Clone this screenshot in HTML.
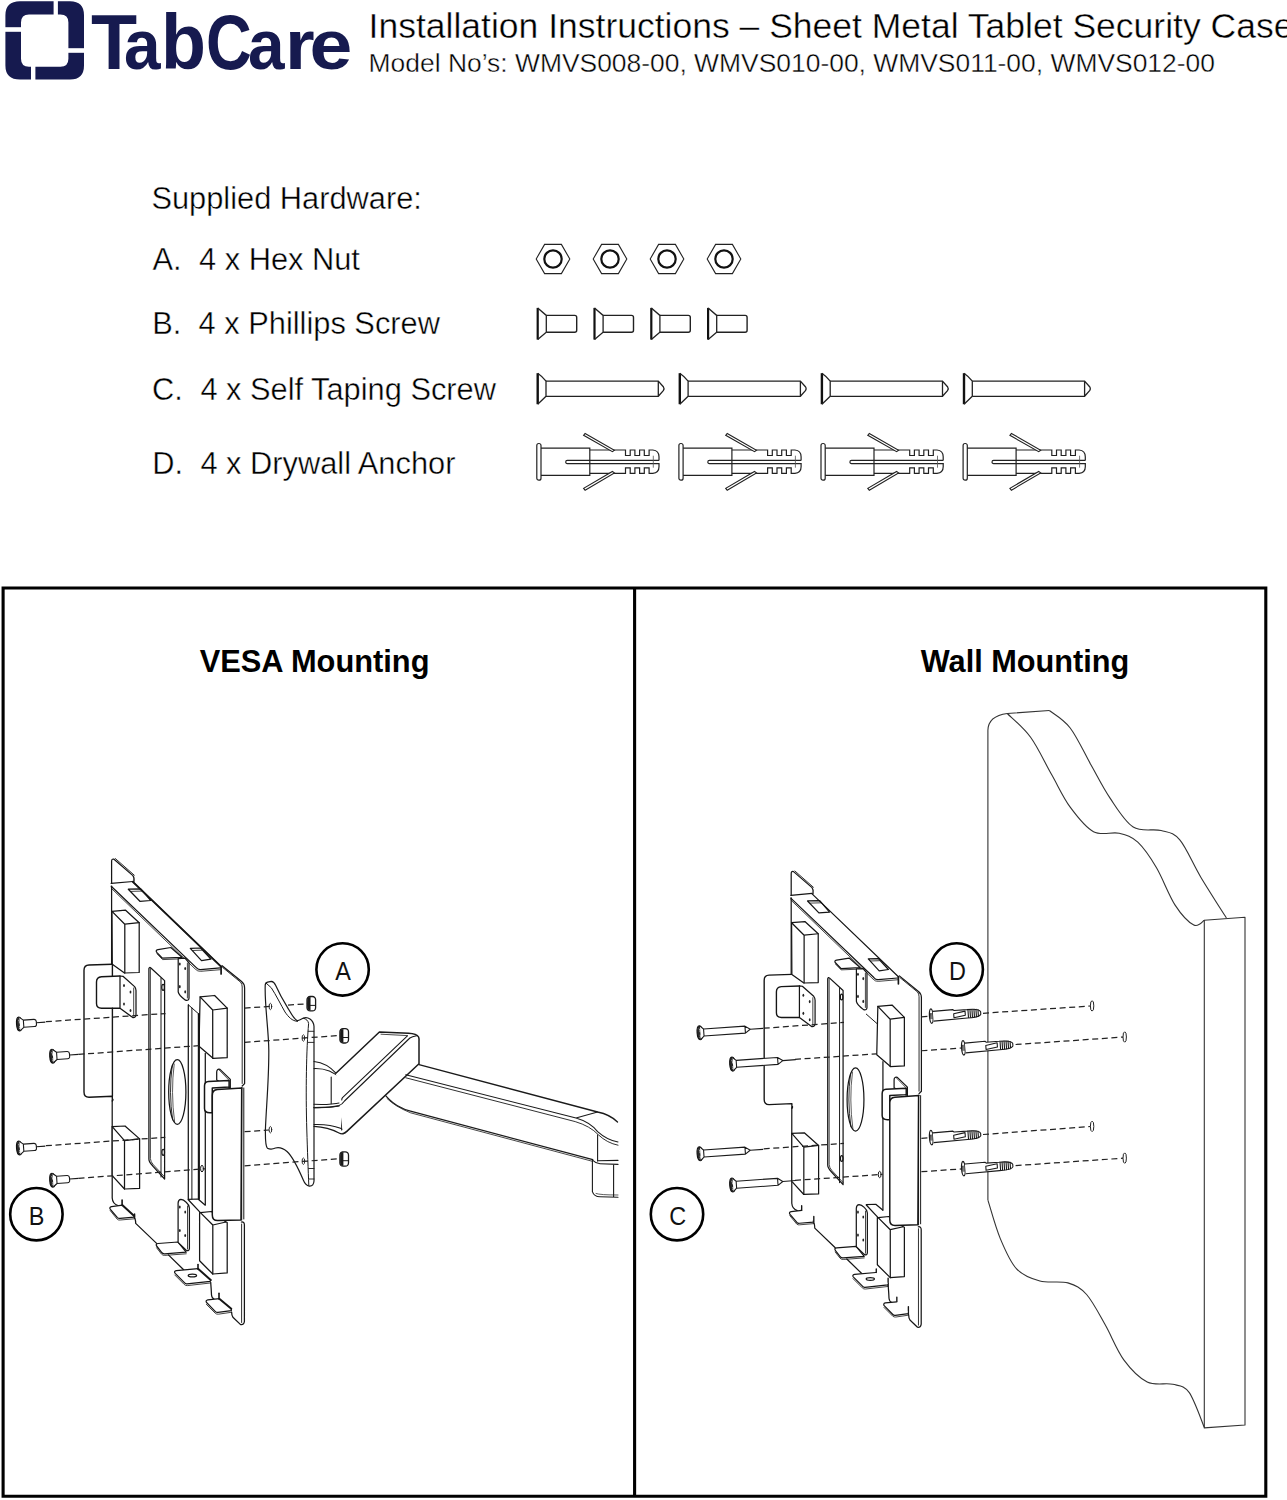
<!DOCTYPE html>
<html>
<head>
<meta charset="utf-8">
<style>
html,body{margin:0;padding:0;background:#fff;}
body{width:1287px;height:1500px;position:relative;overflow:hidden;font-family:"Liberation Sans",sans-serif;color:#000;}
.t{position:absolute;white-space:nowrap;line-height:1;}
.th{-webkit-text-stroke:0.4px #fff;}
.lg{top:4.4px;font-size:77px;font-weight:700;color:#161a4f;transform-origin:0 0;}
svg{position:absolute;left:0;top:0;overflow:visible;}
</style>
</head>
<body>
<!-- LOGO -->
<svg width="1287" height="100" viewBox="0 0 1287 100">
  <path fill="#161a4f" fill-rule="evenodd" d="M20,1.2 H70 Q84,1.2 84,15.2 V65.6 Q84,79.6 70,79.6 H20 Q5.4,79.6 5.4,65.6 V15.2 Q5.4,1.2 20,1.2 Z M29,14.4 H60.4 Q68.4,14.4 68.4,22.4 V58.8 Q68.4,66.8 60.4,66.8 H29 Q21,66.8 21,58.8 V22.4 Q21,14.4 29,14.4 Z"/>
  <rect x="53.6" y="0" width="4.3" height="16" fill="#fff"/>
  <rect x="3" y="27.2" width="19" height="4.6" fill="#fff"/>
  <rect x="67.5" y="48.2" width="19" height="4.6" fill="#fff"/>
  <rect x="31" y="65.5" width="4.4" height="16" fill="#fff"/>
</svg>
<div class="t lg" style="left:90.5px;transform:scaleX(0.98);">T</div><div class="t lg" style="left:123.7px;transform-origin:0 65.6px;transform:scale(0.854,0.91);">a</div><div class="t lg" style="left:160.6px;transform:scaleX(0.956);">b</div><div class="t lg" style="left:206.2px;transform:scaleX(0.822);">C</div><div class="t lg" style="left:247.8px;transform-origin:0 65.6px;transform:scale(0.854,0.91);">a</div><div class="t lg" style="left:284.85px;transform-origin:0 65.6px;transform:scale(0.99,0.91);">r</div><div class="t lg" style="left:309.5px;transform-origin:0 65.6px;transform:scale(1.0,0.91);">e</div>

<div class="t th" id="title" style="left:368.6px;top:9.1px;font-size:35.5px;color:#000;">Installation Instructions – Sheet Metal Tablet Security Case</div>
<div class="t th" id="model" style="left:368.6px;top:49.7px;font-size:26.43px;color:#000;">Model No’s: WMVS008-00, WMVS010-00, WMVS011-00, WMVS012-00</div>

<div class="t th" style="left:151.4px;top:183.8px;font-size:30.8px;">Supplied Hardware:</div>
<div class="t th" style="left:152.5px;top:244.7px;font-size:30.8px;">A.</div>
<div class="t th" style="left:199px;top:244.7px;font-size:30.8px;">4 x Hex Nut</div>
<div class="t th" style="left:152.3px;top:309.4px;font-size:30.8px;">B.</div>
<div class="t th" style="left:198.6px;top:309.4px;font-size:30.8px;">4 x Phillips Screw</div>
<div class="t th" style="left:151.9px;top:375.4px;font-size:30.8px;">C.</div>
<div class="t th" style="left:200.4px;top:375.4px;font-size:30.8px;">4 x Self Taping Screw</div>
<div class="t th" style="left:152.3px;top:448.5px;font-size:30.8px;">D.</div>
<div class="t th" style="left:200.4px;top:448.5px;font-size:30.8px;">4 x Drywall Anchor</div>

<div class="t" style="left:199.7px;top:647.1px;font-size:30.8px;font-weight:700;">VESA Mounting</div>
<div class="t" style="left:920.8px;top:647.3px;font-size:30.7px;font-weight:700;">Wall Mounting</div>

<!-- PANEL FRAME -->
<svg width="1287" height="1500" viewBox="0 0 1287 1500">
  <rect x="3.1" y="588" width="1263" height="1908" fill="none" stroke="#000" stroke-width="3.2" style="display:none"/>
  <path d="M3.1,588 H1265.8 V1496.2 H3.1 Z M634.6,588 V1496.2" fill="none" stroke="#000" stroke-width="3.1"/>
</svg>

<!-- HARDWARE ICONS -->
<svg width="1287" height="520" viewBox="0 0 1287 520" id="hw">
  <defs>
    <g id="nut">
      <polygon points="-16.8,0 -8.4,-14.6 8.4,-14.6 16.8,0 8.4,14.6 -8.4,14.6" fill="none" stroke="#222" stroke-width="1.1"/>
      <circle cx="0" cy="0" r="8.7" fill="none" stroke="#111" stroke-width="2.2"/>
    </g>
    <g id="screwB">
      <path d="M0.6,0 V31.7" stroke="#111" stroke-width="2.2" fill="none"/>
      <path d="M0.6,0 L9.2,7.5 V24.3 L0.6,31.7" stroke="#222" stroke-width="1.3" fill="none"/>
      <path d="M9.2,7.5 H37.6 Q39.6,7.5 39.6,9.5 V22.3 Q39.6,24.3 37.6,24.3 H9.2" stroke="#222" stroke-width="1.4" fill="none"/>
    </g>
    <g id="screwC">
      <path d="M0.6,0 V31" stroke="#111" stroke-width="2.4" fill="none"/>
      <path d="M0.6,0 Q5,3 8.9,7.9 V23.1 Q5,27 0.6,31" stroke="#222" stroke-width="1.3" fill="none"/>
      <path d="M8.9,7.9 H121.2 L126.2,13.5 Q127.6,15.5 126.2,17.5 L121.2,23.1 H8.9 M121.2,7.9 V23.1" stroke="#222" stroke-width="1.3" fill="none"/>
    </g>
    <g id="anchor">
      <rect x="0" y="-18.2" width="4.2" height="36.7" rx="2" fill="none" stroke="#222" stroke-width="1.2"/>
      <path d="M4.2,-13.6 H53 V13.7 H4.2" fill="none" stroke="#222" stroke-width="1.2"/>
      <path d="M53,-11.7 H88.7 V-6.2 H93.4 V-11.7 H98.1 V-6.2 H102.8 V-11.7 H107.5 V-6.2 H112.3 V-11.7 H116 Q122.2,-11 122.2,-5 V-1.3 M53,11.6 H88.7 V6.1 H93.4 V11.6 H98.1 V6.1 H102.8 V11.6 H107.5 V6.1 H112.3 V11.6 H116 Q122.2,11 122.2,5 V1.3" fill="none" stroke="#222" stroke-width="1.2"/>
      <path d="M122.2,-1.3 H30.5 Q28.9,-1.3 28.9,0.3 Q28.9,1.9 30.5,1.9 H122.2" fill="none" stroke="#222" stroke-width="1.1"/>
      <path d="M116.5,-6 V6" stroke="#555" stroke-width="0.8"/>
      <path d="M46.8,-26.4 L48.3,-28.3 L77.6,-11.4 L75.6,-10.0 Z" fill="#fff" stroke="#222" stroke-width="1.1"/>
      <path d="M46.8,26.6 L48.3,28.5 L77.6,11.2 L75.6,9.8 Z" fill="#fff" stroke="#222" stroke-width="1.1"/>
    </g>
  </defs>
  <use href="#nut" x="553" y="259"/>
  <use href="#nut" x="610" y="259"/>
  <use href="#nut" x="667" y="259"/>
  <use href="#nut" x="724" y="259"/>
  <use href="#screwB" x="537.1" y="307.9"/>
  <use href="#screwB" x="593.9" y="307.9"/>
  <use href="#screwB" x="650.7" y="307.9"/>
  <use href="#screwB" x="707.5" y="307.9"/>
  <use href="#screwC" x="537.1" y="373.2"/>
  <use href="#screwC" x="679.2" y="373.2"/>
  <use href="#screwC" x="821.3" y="373.2"/>
  <use href="#screwC" x="963.4" y="373.2"/>
  <use href="#anchor" x="536.8" y="461.7"/>
  <use href="#anchor" x="678.9" y="461.7"/>
  <use href="#anchor" x="821" y="461.7"/>
  <use href="#anchor" x="963.1" y="461.7"/>
</svg>

<!-- DIAGRAMS -->
<svg width="1287" height="1500" viewBox="0 0 1287 1500" id="dg">
  <defs>
   <g id="plate" fill="none" stroke="#151515" stroke-width="1.25" stroke-linejoin="round" stroke-linecap="round">
    <!-- ===== plate outline & bends (no fill) ===== -->
    <path d="M111.6,883.4 V861.5 Q111.6,858.4 114,859.2 L132.9,875.6 Q134.6,877.6 133.9,881.9"/>
    <path d="M115.4,858.6 L134.3,875.2" stroke-width="0.9"/>
    <path d="M111.2,883.4 L132.9,881.5"/>
    <path d="M132.9,881.9 L221.1,966.6" stroke-width="1.2"/>
    <path d="M111.2,886.3 L196,967.4 Q198,969.8 200.5,969.6 L220.4,967.9"/>
    <path d="M111.2,888.2 L195.2,969 Q197.6,971.6 200.6,971.3 L220.4,969.7" stroke-width="0.8"/>
    <path d="M221.1,966.6 V974" stroke-width="1.7"/>
    <path d="M128.3,889.2 L140.7,888.9 L150.8,900.5 L139.9,901.3 Z"/>
    <path d="M130.6,891.4 L141.8,891.1" stroke-width="0.8"/>
    <path d="M190.3,948.4 L200.6,948 L210.9,959.2 L201.5,960.6 Z"/>
    <path d="M192.5,950.5 L201.6,950.2" stroke-width="0.8"/>
    <path d="M111.6,886 V964.2"/>
    <!-- side flange -->
    <path d="M112.3,964.2 L89,965 Q84,965.2 84,970.2 V1092 Q84,1097.2 89,1097.2 L112.3,1096.2 V1098.8 Q113.6,1099.4 112.3,1101" stroke-width="1.4"/>
    
    <!-- long slot -->
    <path d="M148.9,1159 V968.6 Q149.6,966.8 150.6,967.8 L164.6,980.6 V1179 L152.6,1165.8 Q148.9,1162 148.9,1159" />
    <path d="M150.4,968.6 V1158.6 Q150.6,1162 153.4,1164.8 L164.4,1176.6" stroke-width="0.8"/>
    <path d="M161,978 V1177" stroke-width="1"/>
    <ellipse cx="163.1" cy="987.3" rx="1.3" ry="3"/>
    <ellipse cx="163.2" cy="1152.3" rx="1.3" ry="3"/>
    <!-- big oval -->
    <ellipse cx="177.3" cy="1092" rx="8.6" ry="32.3"/>
    <path d="M172.2,1066 Q168.6,1092 172.6,1120" stroke-width="0.9"/>
    <path d="M174.2,1064 Q170.6,1092 174.6,1122" stroke-width="0.7"/>
    <!-- strip -->
    
    
    
    <path d="M188.3,1199.4 L198,1199 L205,1204.9 M188.3,1199.8 L200.4,1212.6"/>
    <path d="M205.3,1053.4 V1205"/>
    <path d="M188.3,1004.8 L199,1014.2" stroke-width="1"/>
    <ellipse cx="202" cy="1168.6" rx="1.4" ry="3.3" stroke-width="1"/>
    <!-- plate right edge upper -->
    <path d="M222.1,965.7 L241.6,981.6 Q244.6,984 244.6,988 V1083.6 L242.2,1086"/>
    <path d="M222.6,967.4 L240.6,982.2 Q242.2,984 242.2,987 V1083.5" stroke-width="0.9"/>
    <!-- plate right edge lower -->
    <path d="M241.4,1222 Q244.4,1221.6 244.4,1225 V1321.4 Q244,1325.2 240.6,1324.6 L232.9,1317.2 Q231.6,1315 231.6,1312" />
    <path d="M241.6,1224 V1322.5" stroke-width="0.9"/>
    <!-- plate left edge lower -->
    <path d="M112.2,1099.5 V1198 Q112.6,1203.8 117.9,1205.5"/>
    <!-- plate bottom edges -->
    <path d="M135,1218.7 Q135.7,1220.6 135.7,1223.4 L156.6,1243.4"/>
    <path d="M168.4,1254.9 L183.9,1270"/>
    <path d="M210.7,1282.4 Q211.3,1290 211.5,1295 Q212,1298.5 214,1299.2"/>
    <!-- ===== components (white fill) ===== -->
    <g fill="#fff">
    <!-- block 1 -->
    <path d="M112,911.4 L125.6,910.2 L139.2,922.7 V972.5 L124.5,973 L112.3,964.2 Z"/>
    <path d="M124.8,924.2 L139.2,922.7 M124.8,924.2 V973 M124.8,924.2 L112,911.4" fill="none"/>
    <!-- hinge bracket left -->
    <path d="M120,976 L101.5,976.7 Q96.5,977 96.5,982 V1003.5 Q96.5,1008.2 101.5,1008.2 L120,1008.2" stroke-width="1.4"/>
    <path d="M120,976 L123,976.3 L134.6,986.6 Q136,988.3 136,990.5 V1014.2 Q136,1017.8 132.8,1017.6 L120,1008.2 Z"/>
    <path d="M133.7,988 V1016" stroke-width="0.8" fill="none"/>
    <!-- top tab -->
    <path d="M158,949.6 L170.8,947.5 L182,957.3 L162.4,958.2 L157,952.6 Q155,950.3 158,949.6 Z"/>
    <path d="M157,953.8 L162.6,959.6 L182,958.8" stroke-width="0.8" fill="none"/>
    <!-- hinge bracket right upper -->
    <path d="M178.2,960 V991.8 Q178.6,995 185.5,1000.2 Q189,1001 189,998 V962.9 L185,958.2 L178.2,958.6 Z"/>
    <path d="M187.4,963 V998" stroke-width="0.8" fill="none"/>
    <!-- block 2 -->
    <path d="M200.1,996.9 L214.6,995.5 L227.2,1008.1 V1057.7 L213,1058.3 L199,1046.2 Z"/>
    <path d="M212.7,1010 L227.2,1008.1 M212.7,1010 V1058.3 M212.7,1010 L200.1,996.9" fill="none"/>
    <!-- block 3 (lower left) -->
    <path d="M112.2,1126.6 L125,1126 L139.6,1138.9 V1188.4 L124.5,1189 L112.2,1175.6 Z"/>
    <path d="M124.5,1140.6 L139.6,1138.9 M124.5,1140.6 V1189 M124.5,1140.6 L112.2,1126.6" fill="none"/>
    <!-- lower right block -->
    <path d="M200.4,1212.6 L211.3,1211.5 L226,1222 L227.2,1222.5 V1272.9 L212.8,1274 L199.6,1260.8 V1212.6 Z"/>
    <path d="M212.8,1225 L226,1222 M212.8,1225 V1274 M212.8,1225 L200.4,1212.6" fill="none"/>
    <!-- small hook bracket -->
    <path d="M216.7,1080 V1072 Q216.7,1068.6 220,1069.4 L230.3,1079.4 V1087.9 Z"/>
    <path d="M218.7,1069.6 L228.8,1080 V1087.9" stroke-width="0.7" fill="none"/>
    <!-- back cover -->
    <path d="M229.1,1080.4 L208.4,1081.6 Q204.5,1082 204.5,1086 V1108.4 Q204.5,1112.6 209.8,1112.7 L212.3,1112.7 V1088 L229.1,1087 Z" stroke-width="1.5"/>
    <!-- front cover -->
    <path d="M242.2,1087.9 L217.5,1089.6 Q212.3,1090 212.3,1095.4 V1215 Q212.3,1220.6 217.6,1220.6 L241,1220 L241.7,1088 Z" stroke-width="1.5"/>
    <path d="M241.7,1088 V1220 M243.8,1088 V1219" stroke-width="1" fill="none"/>
    <!-- tab 1 -->
    <path d="M122.5,1205.2 L111.6,1206.6 Q108.8,1207.4 110.4,1209.4 L117.4,1217.6 Q118.4,1218.6 120,1218.4 L134.2,1217.2 V1216"/>
    <path d="M110.2,1210.6 L117.2,1219.2 Q118.6,1220.4 120.2,1220 L134.2,1218.8" stroke-width="0.8" fill="none"/>
    
    
    
    <!-- tab 2 -->
    <path d="M178,1242 L158,1243.5 Q155,1244 157,1246.5 L161.6,1252.4 Q162.6,1253.9 164.6,1253.8 L186.2,1252.2 Z"/>
    <path d="M156.6,1247.8 L161.4,1254 Q162.8,1255.6 164.8,1255.4 L186.2,1253.8" stroke-width="0.8" fill="none"/>
    <!-- lower hinge bracket -->
    <path d="M178.1,1242.4 V1203 Q178.3,1199.6 181,1199.4 Q183.4,1199.6 186.2,1202.2 Q189.4,1205 189.4,1208 V1248.6 Q189,1251.6 186.2,1250.2 L178.1,1242.4 Z"/>
    <path d="M187.5,1206 V1249" stroke-width="0.8" fill="none"/>
    <!-- tab 3 -->
    <path d="M198,1268.7 L176.4,1270.6 Q173.4,1271.4 175.2,1273.4 L184.4,1282.6 Q185.4,1284 187,1283.8 L210.3,1281.3 L210.7,1280"/>
    <path d="M174.8,1275 L184.2,1284.4 Q185.6,1285.8 187.4,1285.6 L210.3,1283" stroke-width="0.8" fill="none"/>
    
    
    <ellipse cx="192.4" cy="1275.4" rx="4.2" ry="1.4"/>
    <!-- tab 4 -->
    <path d="M219.3,1298.7 L207.8,1299.8 Q205,1300.6 206.8,1302.8 L215.4,1311.6 Q216.4,1312.6 218,1312.4 L231.3,1310.7 V1308.7"/>
    <path d="M206.4,1304.4 L215.2,1313.2 Q216.6,1314.4 218.4,1314.2 L231.3,1312.3" stroke-width="0.8" fill="none"/>
    
    
    </g>
    <g fill="#222" stroke="none">
     <ellipse cx="124" cy="985.5" rx="0.9" ry="1.6"/><ellipse cx="130.5" cy="992" rx="0.9" ry="1.6"/>
     <ellipse cx="124" cy="1004" rx="0.9" ry="1.6"/><ellipse cx="130.5" cy="1010.5" rx="0.9" ry="1.6"/>
     <ellipse cx="179.8" cy="964" rx="0.9" ry="1.6"/><ellipse cx="185.2" cy="968.5" rx="0.9" ry="1.6"/>
     <ellipse cx="179.8" cy="986.7" rx="0.9" ry="1.6"/><ellipse cx="185.2" cy="991.8" rx="0.9" ry="1.6"/>
     <ellipse cx="179.8" cy="1207" rx="0.9" ry="1.6"/><ellipse cx="185.2" cy="1212" rx="0.9" ry="1.6"/>
     <ellipse cx="179.8" cy="1230.5" rx="0.9" ry="1.6"/><ellipse cx="185.2" cy="1235.5" rx="0.9" ry="1.6"/>
    </g>
   </g>
   <g id="plateL" fill="none" stroke="#151515" stroke-width="1.25" stroke-linejoin="round" stroke-linecap="round">
    <path d="M132.9,881.9 L221.1,966.6" stroke-width="2"/>
    <path d="M188.3,1199.4 V1004.8 M199,1014.2 V1199.2" />
    <path d="M198.8,1014.2 V1199" stroke-width="2"/>
    <path d="M191.9,1008 V1199" stroke-width="1"/>
    <path d="M122.5,1205.2 L134.2,1216" stroke-width="2"/>
    <path d="M122.1,1200 V1205.5" stroke-width="1.6"/>
    <path d="M134.6,1214 V1218.4" stroke-width="1.4"/>
    <path d="M198,1268.7 L210.7,1280" stroke-width="2"/>
    <path d="M198,1264.5 V1269" stroke-width="1.6"/>
    <path d="M219.3,1298.7 L231.3,1308.7" stroke-width="2"/>
    <path d="M219,1293.3 V1299" stroke-width="1.6"/>
   </g>
   <g id="plateR" fill="none" stroke="#151515" stroke-width="1.25" stroke-linejoin="round" stroke-linecap="round">
    <path d="M134.7,1211.4 V1218.4 M122.3,1200.5 V1204.5 Q122.2,1206 120,1206" stroke-width="1.4"/>
    <path d="M210.6,1274.5 V1282.4 M198.5,1265 V1269" stroke-width="1.4"/>
    <path d="M231.3,1303.5 V1311.6 M219.5,1293.8 V1298.6" stroke-width="1.4"/>
   </g>
  </defs>
  <use href="#plate"/>
  <use href="#plateL"/>
  <use href="#plateR" transform="translate(681.94,30.44) scale(0.979)"/>
  <use href="#plate" transform="translate(681.94,30.44) scale(0.979)"/>
<!--GEN-->
<g fill="none" stroke="#1a1a1a" stroke-width="1.1" stroke-linejoin="round" stroke-linecap="round">
<path d="M112.4,964.2 V976 M112.4,1008.2 V1096.2" stroke="#151515" stroke-width="1.4"/>
<path d="M265.2,986 Q265,982.8 267.6,982.2 L271.3,981.4 Q274,981.6 275.6,985.3 C279,993 283.5,1001 287.6,1007.6 C291,1013.5 294,1019.5 297.5,1020.8 Q300,1020 303,1018.3 Q306.5,1016.6 310,1019 Q313.6,1021.5 314,1026.3 L314,1181 Q313.6,1186.4 309.3,1186.1 Q305.5,1185.6 303.4,1180.3 C299,1170 293,1157 287,1151.5 Q281,1146.5 275.5,1148 Q271,1150 267.4,1148.2 Q265.2,1146 265.4,1130 C266,1110 269,1080 268.8,1050 C268.6,1030 264.6,1005 265.2,986 Z" fill="#fff" stroke-width="1.2"/>
<path d="M266.2,983.2 L271.3,987.8 C276,995 281,1005 285,1012 C288.5,1017 292,1021 297.5,1021.4" stroke-width="1"/>
<path d="M303.4,1018.2 Q308,1019.4 308.6,1023.5 C306.4,1050 305.6,1090 306.8,1130 C307.4,1150 308.2,1170 308.8,1185.5" stroke-width="1"/>
<path d="M308.2,1031.3 H313.8 M308.2,1042.4 H313.8 M308.7,1168.5 H314 M308.9,1179 H314" stroke-width="0.9"/>
<ellipse cx="270.4" cy="1006.5" rx="1.3" ry="3.2" stroke-width="0.9"/>
<ellipse cx="303.4" cy="1038" rx="1.3" ry="3.2" stroke-width="0.9"/>
<ellipse cx="270.4" cy="1129.7" rx="1.3" ry="3.2" stroke-width="0.9"/>
<ellipse cx="303.4" cy="1161.2" rx="1.3" ry="3.2" stroke-width="0.9"/>
<g transform="translate(311.3,1003.7)"><rect x="-4.3" y="-7.2" width="8.6" height="14.4" rx="3.2" fill="#fff" stroke-width="1.3"/><path d="M-3.4,-5.8 Q-4.4,0 -3.4,5.8 L-1.2,6.6 V-6.6 Z" fill="#1a1a1a" stroke-width="0.8"/><path d="M-1,1.7 H4.3" stroke-width="1"/></g>
<g transform="translate(344.2,1035.8)"><rect x="-4.3" y="-7.2" width="8.6" height="14.4" rx="3.2" fill="#fff" stroke-width="1.3"/><path d="M-3.4,-5.8 Q-4.4,0 -3.4,5.8 L-1.2,6.6 V-6.6 Z" fill="#1a1a1a" stroke-width="0.8"/><path d="M-1,1.7 H4.3" stroke-width="1"/></g>
<g transform="translate(344.2,1159)"><rect x="-4.3" y="-7.2" width="8.6" height="14.4" rx="3.2" fill="#fff" stroke-width="1.3"/><path d="M-3.4,-5.8 Q-4.4,0 -3.4,5.8 L-1.2,6.6 V-6.6 Z" fill="#1a1a1a" stroke-width="0.8"/><path d="M-1,1.7 H4.3" stroke-width="1"/></g>
<path d="M314,1061.5 Q327,1063 335.9,1073.2" />
<path d="M314,1068.6 Q330,1068 340.5,1078.6 Q342,1081 341.8,1084"/>
<path d="M331.2,1077 V1103.6 M341.7,1080 V1097"/>
<path d="M314,1104.3 Q330,1105 340.5,1102.7 M314,1107.6 Q332,1108 342.9,1105"/>
<path d="M314,1124.5 Q330,1124 340.5,1128.3 L346.8,1131.4 M314,1126.4 Q328,1127 339,1133 Q341,1134.2 343.4,1133.8"/>
<path d="M341.7,1105 V1130"/>
<path d="M335.9,1073.2 L379.4,1032 L408.5,1033.2 Q416.7,1033.6 418.6,1037 Q419.4,1039 419,1042 V1063.8 L346.8,1131.4 Q344.5,1133.6 342.9,1133.4" stroke-width="1.5" fill="#fff"/>
<path d="M381,1034.2 L407.4,1035.6" stroke-width="0.8"/>
<path d="M407.4,1035.9 L342.5,1097.6 Q341.5,1099 341.8,1100"/>
<path d="M409.9,1038 Q412,1036.6 416.6,1035.8 M409.9,1038 L344.5,1101 Q342,1104.6 339,1105.6 Q332,1107.4 314,1107.6"/>
<path d="M419,1064.6 L597.6,1112 Q610,1114.5 617.5,1122" stroke-width="1.3"/>
<path d="M405.8,1074.7 L576,1118 L597.6,1112 M576,1118 Q590,1122 597.6,1131.6 Q607,1140 618,1142"/>
<path d="M405.8,1077.8 L575.2,1121.6 Q590,1126 598.4,1134.8 Q607,1143 618,1145.2" stroke-width="0.9"/>
<path d="M385.6,1095.7 Q393,1104 400,1107 Q405,1110 410.5,1111.2 L592.8,1159.6" stroke-width="1.2"/>
<path d="M387,1098.5 Q395,1106.5 410.5,1112.8 L592,1161.2" stroke-width="0.8"/>
<path d="M597.6,1134.8 V1161"/>
<path d="M592.8,1160.4 Q596,1163.6 600,1163.8 L618,1164.4 M597.6,1160.8 L618,1160.4"/>
<path d="M592.4,1160 V1191.6 Q594,1196.6 600,1196.8 L618,1197.2 M613.6,1165 V1197"/>
<path d="M596,1193.5 Q600,1195 618,1195" stroke-width="0.7"/>
</g>
<g transform="translate(19.2,1024) rotate(-4.0)" fill="none" stroke="#1a1a1a" stroke-linejoin="round"><ellipse cx="0" cy="0" rx="2.7" ry="7" fill="#2a2a2a" stroke="#111" stroke-width="1.1"/><path d="M-0.4,-4.2 Q0.6,-2 0.2,-0.6 M0.2,2 Q0.8,3.8 -0.2,5" stroke="#bbb" stroke-width="0.9"/><path d="M0.6,-6.6 L4.4,-3.6 V3.6 L0.6,6.6 M4.4,-3.6 H15.0 Q17.2,-3.6 17.2,-1.4 V1.4 Q17.2,3.6 15.0,3.6 H4.4" stroke-width="1.1" fill="#fff"/><path d="M17.2,0 H26.2" stroke-width="1.1"/></g>
<g transform="translate(52.4,1056.2) rotate(-4.0)" fill="none" stroke="#1a1a1a" stroke-linejoin="round"><ellipse cx="0" cy="0" rx="2.7" ry="7" fill="#2a2a2a" stroke="#111" stroke-width="1.1"/><path d="M-0.4,-4.2 Q0.6,-2 0.2,-0.6 M0.2,2 Q0.8,3.8 -0.2,5" stroke="#bbb" stroke-width="0.9"/><path d="M0.6,-6.6 L4.4,-3.6 V3.6 L0.6,6.6 M4.4,-3.6 H15.0 Q17.2,-3.6 17.2,-1.4 V1.4 Q17.2,3.6 15.0,3.6 H4.4" stroke-width="1.1" fill="#fff"/><path d="M17.2,0 H26.2" stroke-width="1.1"/></g>
<g transform="translate(19.2,1148) rotate(-4.0)" fill="none" stroke="#1a1a1a" stroke-linejoin="round"><ellipse cx="0" cy="0" rx="2.7" ry="7" fill="#2a2a2a" stroke="#111" stroke-width="1.1"/><path d="M-0.4,-4.2 Q0.6,-2 0.2,-0.6 M0.2,2 Q0.8,3.8 -0.2,5" stroke="#bbb" stroke-width="0.9"/><path d="M0.6,-6.6 L4.4,-3.6 V3.6 L0.6,6.6 M4.4,-3.6 H15.0 Q17.2,-3.6 17.2,-1.4 V1.4 Q17.2,3.6 15.0,3.6 H4.4" stroke-width="1.1" fill="#fff"/><path d="M17.2,0 H26.2" stroke-width="1.1"/></g>
<g transform="translate(52.4,1180.2) rotate(-4.0)" fill="none" stroke="#1a1a1a" stroke-linejoin="round"><ellipse cx="0" cy="0" rx="2.7" ry="7" fill="#2a2a2a" stroke="#111" stroke-width="1.1"/><path d="M-0.4,-4.2 Q0.6,-2 0.2,-0.6 M0.2,2 Q0.8,3.8 -0.2,5" stroke="#bbb" stroke-width="0.9"/><path d="M0.6,-6.6 L4.4,-3.6 V3.6 L0.6,6.6 M4.4,-3.6 H15.0 Q17.2,-3.6 17.2,-1.4 V1.4 Q17.2,3.6 15.0,3.6 H4.4" stroke-width="1.1" fill="#fff"/><path d="M17.2,0 H26.2" stroke-width="1.1"/></g>
<path d="M45.9,1021.70 L165.5,1013.52" stroke="#222" stroke-width="1.25" fill="none" stroke-dasharray="6,3.6"/>
<path d="M244.6,1008.11 L270.4,1006.34" stroke="#222" stroke-width="1.25" fill="none" stroke-dasharray="6,3.6"/>
<path d="M288.0,1005.14 L308.0,1003.77" stroke="#222" stroke-width="1.25" fill="none" stroke-dasharray="6,3.6"/>
<path d="M78.5,1054.40 L199.0,1045.64" stroke="#222" stroke-width="1.25" fill="none" stroke-dasharray="6,3.6"/>
<path d="M244.6,1042.33 L340.0,1035.40" stroke="#222" stroke-width="1.25" fill="none" stroke-dasharray="6,3.6"/>
<path d="M45.9,1145.70 L165.3,1137.30" stroke="#222" stroke-width="1.25" fill="none" stroke-dasharray="6,3.6"/>
<path d="M244.6,1131.72 L269.0,1130.00" stroke="#222" stroke-width="1.25" fill="none" stroke-dasharray="6,3.6"/>
<path d="M78.5,1178.40 L205.0,1168.82" stroke="#222" stroke-width="1.25" fill="none" stroke-dasharray="6,3.6"/>
<path d="M244.6,1165.82 L340.0,1158.60" stroke="#222" stroke-width="1.25" fill="none" stroke-dasharray="6,3.6"/>
<circle cx="342.6" cy="969.4" r="26.2" fill="none" stroke="#000" stroke-width="2.6"/>
<circle cx="36.4" cy="1214.2" r="26.2" fill="none" stroke="#000" stroke-width="2.6"/>
<text x="343.2" y="980.5" text-anchor="middle" font-family="Liberation Sans" font-size="25.5" fill="#111" transform="translate(343.2,0) scale(0.92,1) translate(-343.2,0)">A</text>
<text x="36.5" y="1224.7" text-anchor="middle" font-family="Liberation Sans" font-size="25.5" fill="#111" transform="translate(36.5,0) scale(0.92,1) translate(-36.5,0)">B</text>
<text x="677.8" y="1224.6" text-anchor="middle" font-family="Liberation Sans" font-size="25.5" fill="#111" transform="translate(677.8,0) scale(0.92,1) translate(-677.8,0)">C</text>
<text x="957.4" y="979.7" text-anchor="middle" font-family="Liberation Sans" font-size="25.5" fill="#111" transform="translate(957.4,0) scale(0.92,1) translate(-957.4,0)">D</text>
<path d="M987.9,1200.1 V730.3 Q988.2,716 1007.3,713.5 L1049.3,710.5" fill="none" stroke="#333" stroke-width="1.1" stroke-linejoin="round"/>
<path d="M1007.3,713.5 C1011.2,717.5 1023.2,727.1 1030.6,737.3 C1038.0,747.5 1045.0,763.0 1051.6,774.6 C1058.2,786.2 1063.2,797.7 1070.2,807.2 C1077.2,816.7 1085.3,827.4 1093.5,831.7 C1101.7,836.1 1111.8,831.5 1119.2,833.3 C1126.6,835.0 1131.6,836.5 1137.8,842.2 C1144.0,848.0 1150.3,857.3 1156.5,867.8 C1162.7,878.3 1168.9,895.6 1175.1,905.1 C1181.3,914.6 1188.9,922.5 1193.8,925.0 C1198.7,927.5 1202.5,921.1 1204.3,920.3" fill="none" stroke="#333" stroke-width="1.1" stroke-linejoin="round"/>
<path d="M1049.3,710.5 C1052.8,713.4 1063.2,718.9 1070.2,728.0 C1077.2,737.1 1084.6,753.6 1091.2,765.3 C1097.8,776.9 1102.9,787.6 1109.9,797.9 C1116.9,808.2 1124.7,821.6 1133.2,827.0 C1141.7,832.4 1153.3,828.4 1161.1,830.5 C1168.9,832.6 1173.2,832.1 1179.8,839.9 C1186.4,847.7 1193.0,864.2 1200.8,877.2 C1208.6,890.2 1222.1,911.2 1226.4,918.0" fill="none" stroke="#333" stroke-width="1.1" stroke-linejoin="round"/>
<path d="M987.9,1200.1 C990.0,1206.5 995.5,1227.1 1000.3,1238.6 C1005.1,1250.1 1010.0,1261.8 1016.6,1268.9 C1023.2,1276.0 1031.4,1278.7 1039.9,1281.0 C1048.5,1283.3 1060.1,1280.7 1067.9,1282.9 C1075.7,1285.2 1080.4,1287.5 1086.6,1294.5 C1092.8,1301.5 1099.0,1313.9 1105.2,1324.8 C1111.4,1335.7 1116.8,1350.3 1123.8,1359.8 C1130.8,1369.3 1139.0,1377.8 1147.2,1381.9 C1155.4,1386.0 1165.8,1382.5 1172.8,1384.3 C1179.8,1386.0 1183.8,1385.2 1189.1,1392.4 C1194.3,1399.6 1201.8,1421.6 1204.3,1427.4" fill="none" stroke="#333" stroke-width="1.1" stroke-linejoin="round"/>
<path d="M1204.3,920.3 L1245,917.2 V1425 L1204.3,1427.9 Z" fill="none" stroke="#333" stroke-width="1.1" stroke-linejoin="round"/>
<g transform="translate(699.8,1032.8) rotate(-4.0)" fill="none" stroke="#1a1a1a" stroke-linejoin="round"><ellipse cx="0" cy="0" rx="2.7" ry="7" fill="#2a2a2a" stroke="#111" stroke-width="1.1"/><path d="M-0.4,-4.2 Q0.6,-2 0.2,-0.6 M0.2,2 Q0.8,3.8 -0.2,5" stroke="#bbb" stroke-width="0.9"/><path d="M0.6,-6.6 L4,-3.5 V3.5 L0.6,6.6 M4,-3.5 H45.5 L50.5,0 L45.5,3.5 H4 M45.5,-3.5 V3.5" stroke-width="1.1" fill="#fff"/><path d="M50.5,0 H63.5" stroke-width="1.1"/></g>
<g transform="translate(732.4,1064.1) rotate(-4.0)" fill="none" stroke="#1a1a1a" stroke-linejoin="round"><ellipse cx="0" cy="0" rx="2.7" ry="7" fill="#2a2a2a" stroke="#111" stroke-width="1.1"/><path d="M-0.4,-4.2 Q0.6,-2 0.2,-0.6 M0.2,2 Q0.8,3.8 -0.2,5" stroke="#bbb" stroke-width="0.9"/><path d="M0.6,-6.6 L4,-3.5 V3.5 L0.6,6.6 M4,-3.5 H45.5 L50.5,0 L45.5,3.5 H4 M45.5,-3.5 V3.5" stroke-width="1.1" fill="#fff"/><path d="M50.5,0 H63.5" stroke-width="1.1"/></g>
<g transform="translate(699.8,1153.8) rotate(-4.0)" fill="none" stroke="#1a1a1a" stroke-linejoin="round"><ellipse cx="0" cy="0" rx="2.7" ry="7" fill="#2a2a2a" stroke="#111" stroke-width="1.1"/><path d="M-0.4,-4.2 Q0.6,-2 0.2,-0.6 M0.2,2 Q0.8,3.8 -0.2,5" stroke="#bbb" stroke-width="0.9"/><path d="M0.6,-6.6 L4,-3.5 V3.5 L0.6,6.6 M4,-3.5 H45.5 L50.5,0 L45.5,3.5 H4 M45.5,-3.5 V3.5" stroke-width="1.1" fill="#fff"/><path d="M50.5,0 H63.5" stroke-width="1.1"/></g>
<g transform="translate(732.4,1185) rotate(-4.0)" fill="none" stroke="#1a1a1a" stroke-linejoin="round"><ellipse cx="0" cy="0" rx="2.7" ry="7" fill="#2a2a2a" stroke="#111" stroke-width="1.1"/><path d="M-0.4,-4.2 Q0.6,-2 0.2,-0.6 M0.2,2 Q0.8,3.8 -0.2,5" stroke="#bbb" stroke-width="0.9"/><path d="M0.6,-6.6 L4,-3.5 V3.5 L0.6,6.6 M4,-3.5 H45.5 L50.5,0 L45.5,3.5 H4 M45.5,-3.5 V3.5" stroke-width="1.1" fill="#fff"/><path d="M50.5,0 H63.5" stroke-width="1.1"/></g>
<g transform="translate(931.3,1016.1) rotate(-4.0)" fill="none" stroke="#1a1a1a" stroke-linejoin="round" stroke-width="1.1"><ellipse cx="0" cy="0" rx="1.8" ry="7.2" fill="#fff" stroke-width="1.3"/><path d="M-0.6,-3 V3 M0.6,-3 V3" stroke-width="0.8"/><path d="M1.8,-4.6 L22,-5 L23,-4 H36 Q48,-4.4 49.5,-1 V1.6 Q48,4.6 36,4.4 L2,5.2" fill="#fff"/><path d="M22.5,-0.8 L34,-2.6 V1.6 L22.5,3.2 Z" /><path d="M37,-4 V4.4 M39,-4.1 V4.4 M41,-4.2 V4.4 M43,-4.2 V4.4 M45,-4.1 V4.3 M47,-3.6 V3.8" stroke-width="1.1"/></g>
<g transform="translate(963.4,1047.8) rotate(-4.0)" fill="none" stroke="#1a1a1a" stroke-linejoin="round" stroke-width="1.1"><ellipse cx="0" cy="0" rx="1.8" ry="7.2" fill="#fff" stroke-width="1.3"/><path d="M-0.6,-3 V3 M0.6,-3 V3" stroke-width="0.8"/><path d="M1.8,-4.6 L22,-5 L23,-4 H36 Q48,-4.4 49.5,-1 V1.6 Q48,4.6 36,4.4 L2,5.2" fill="#fff"/><path d="M22.5,-0.8 L34,-2.6 V1.6 L22.5,3.2 Z" /><path d="M37,-4 V4.4 M39,-4.1 V4.4 M41,-4.2 V4.4 M43,-4.2 V4.4 M45,-4.1 V4.3 M47,-3.6 V3.8" stroke-width="1.1"/></g>
<g transform="translate(931.3,1137.6) rotate(-4.0)" fill="none" stroke="#1a1a1a" stroke-linejoin="round" stroke-width="1.1"><ellipse cx="0" cy="0" rx="1.8" ry="7.2" fill="#fff" stroke-width="1.3"/><path d="M-0.6,-3 V3 M0.6,-3 V3" stroke-width="0.8"/><path d="M1.8,-4.6 L22,-5 L23,-4 H36 Q48,-4.4 49.5,-1 V1.6 Q48,4.6 36,4.4 L2,5.2" fill="#fff"/><path d="M22.5,-0.8 L34,-2.6 V1.6 L22.5,3.2 Z" /><path d="M37,-4 V4.4 M39,-4.1 V4.4 M41,-4.2 V4.4 M43,-4.2 V4.4 M45,-4.1 V4.3 M47,-3.6 V3.8" stroke-width="1.1"/></g>
<g transform="translate(963.4,1168.7) rotate(-4.0)" fill="none" stroke="#1a1a1a" stroke-linejoin="round" stroke-width="1.1"><ellipse cx="0" cy="0" rx="1.8" ry="7.2" fill="#fff" stroke-width="1.3"/><path d="M-0.6,-3 V3 M0.6,-3 V3" stroke-width="0.8"/><path d="M1.8,-4.6 L22,-5 L23,-4 H36 Q48,-4.4 49.5,-1 V1.6 Q48,4.6 36,4.4 L2,5.2" fill="#fff"/><path d="M22.5,-0.8 L34,-2.6 V1.6 L22.5,3.2 Z" /><path d="M37,-4 V4.4 M39,-4.1 V4.4 M41,-4.2 V4.4 M43,-4.2 V4.4 M45,-4.1 V4.3 M47,-3.6 V3.8" stroke-width="1.1"/></g>
<ellipse cx="1092.1" cy="1005.9" rx="1.7" ry="5.2" fill="none" stroke="#222" stroke-width="1"/>
<ellipse cx="1124.7" cy="1037" rx="1.7" ry="5.2" fill="none" stroke="#222" stroke-width="1"/>
<ellipse cx="1092.1" cy="1126.4" rx="1.7" ry="5.2" fill="none" stroke="#222" stroke-width="1"/>
<ellipse cx="1124.7" cy="1158.1" rx="1.7" ry="5.2" fill="none" stroke="#222" stroke-width="1"/>
<path d="M763.7,1028.20 L844.0,1022.44" stroke="#222" stroke-width="1.25" fill="none" stroke-dasharray="6,3.6"/>
<path d="M921.4,1016.88 L929.5,1016.30" stroke="#222" stroke-width="1.25" fill="none" stroke-dasharray="6,3.6"/>
<path d="M983.0,1013.30 L1090.3,1006.00" stroke="#222" stroke-width="1.25" fill="none" stroke-dasharray="6,3.6"/>
<path d="M795.0,1059.40 L876.8,1053.80" stroke="#222" stroke-width="1.25" fill="none" stroke-dasharray="6,3.6"/>
<path d="M921.4,1050.75 L961.6,1048.00" stroke="#222" stroke-width="1.25" fill="none" stroke-dasharray="6,3.6"/>
<path d="M1015.6,1044.50 L1123.0,1037.10" stroke="#222" stroke-width="1.25" fill="none" stroke-dasharray="6,3.6"/>
<path d="M763.7,1148.80 L844.0,1143.47" stroke="#222" stroke-width="1.25" fill="none" stroke-dasharray="6,3.6"/>
<path d="M921.4,1138.34 L929.5,1137.80" stroke="#222" stroke-width="1.25" fill="none" stroke-dasharray="6,3.6"/>
<path d="M983.0,1134.50 L1090.3,1126.50" stroke="#222" stroke-width="1.25" fill="none" stroke-dasharray="6,3.6"/>
<path d="M795.0,1180.40 L882.6,1174.35" stroke="#222" stroke-width="1.25" fill="none" stroke-dasharray="6,3.6"/>
<path d="M921.4,1171.67 L961.6,1168.90" stroke="#222" stroke-width="1.25" fill="none" stroke-dasharray="6,3.6"/>
<path d="M1015.6,1165.60 L1123.0,1158.20" stroke="#222" stroke-width="1.25" fill="none" stroke-dasharray="6,3.6"/>
<circle cx="956.7" cy="969.5" r="26.2" fill="none" stroke="#000" stroke-width="2.6"/>
<circle cx="677" cy="1214.2" r="26.2" fill="none" stroke="#000" stroke-width="2.6"/>
<!--/GEN-->

</svg>
</body>
</html>
